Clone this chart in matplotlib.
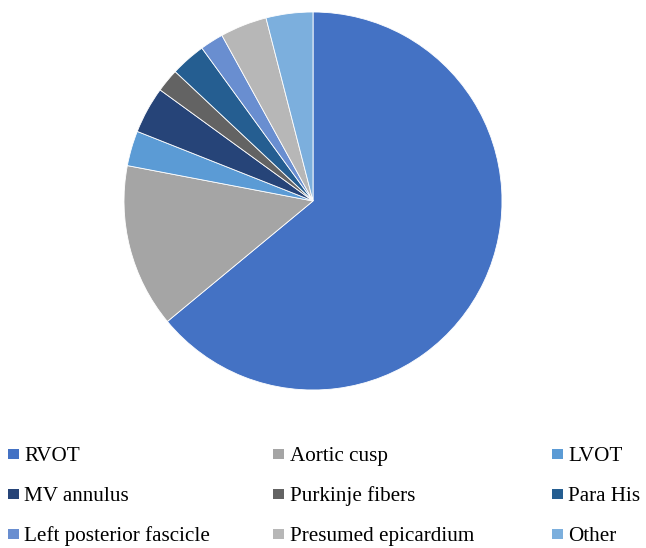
import matplotlib
matplotlib.use('Agg')
import matplotlib.pyplot as plt
from matplotlib.patches import Rectangle

# dados do grafico (percentuais)
labels = ['RVOT', 'Aortic cusp', 'LVOT',
          'MV annulus', 'Purkinje fibers', 'Para His',
          'Left posterior fascicle', 'Presumed epicardium', 'Other']
values = [64, 14, 3, 4, 2, 3, 2, 4, 4]
colors = ['#4472C4', '#A5A5A5', '#5B9BD5',
          '#264478', '#636363', '#255E91',
          '#698ED0', '#B7B7B7', '#7CAFDD']

W, H = 646, 548
fig = plt.figure(figsize=(W / 100, H / 100), dpi=100)

# pizza: centro (313, 201) px, raio 189 px
cx, cy, r = 313, 201, 189
ax = fig.add_axes([(cx - r) / W, (H - cy - r) / H, 2 * r / W, 2 * r / H])
ax.pie(values, colors=colors, startangle=90, counterclock=False,
       radius=1, wedgeprops=dict(edgecolor='white', linewidth=0.6))
ax.set_xlim(-1, 1)
ax.set_ylim(-1, 1)
ax.set_aspect('equal')
ax.axis('off')

# legenda manual em 3 colunas (posicoes em pixels)
col_x = [8, 273, 552]
row_base = [461, 501, 541]
for i, (lab, c) in enumerate(zip(labels, colors)):
    x = col_x[i % 3]
    yb = row_base[i // 3]
    fig.patches.append(Rectangle((x / W, (H - yb + 2) / H), 11 / W, 10 / H,
                                 transform=fig.transFigure, color=c, lw=0))
    fig.text((x + 16.5) / W, (H - yb) / H, lab, fontsize=15.2,
             family='Liberation Serif', va='baseline', ha='left')

fig.savefig('out.png', dpi=100)
